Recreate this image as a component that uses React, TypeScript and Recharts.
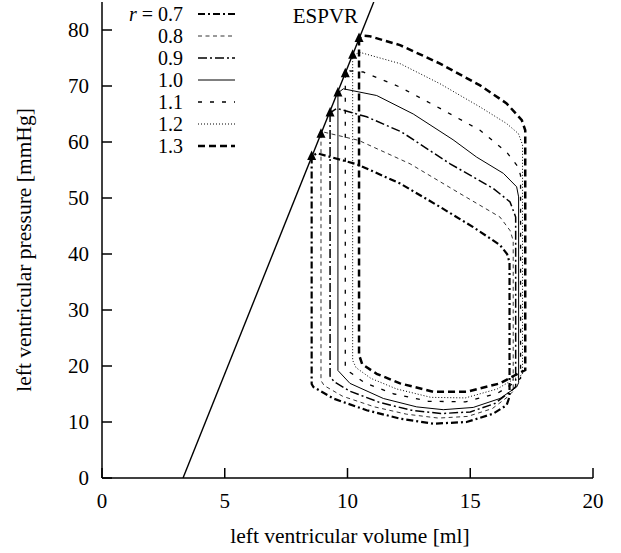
import React from 'react';
import { ComposedChart, Line, Scatter, XAxis, YAxis, Legend, ReferenceDot, Label } from 'recharts';

const FONT = '"Liberation Serif", "Times New Roman", Times, serif';

// ratio r for each loop
const ratioLabels = ['0.7', '0.8', '0.9', '1.0', '1.1', '1.2', '1.3'];

// pressure-volume loops: [volume ml, pressure mmHg]
const loop07: [number, number][] = [[8.54, 57.4], [8.54, 16.8], [8.61, 16.25], [9.42, 14.2], [10.78, 12.1], [12.14, 10.6], [13.5, 9.7], [14.85, 10.0], [15.94, 11.5], [16.48, 13.0], [16.6, 14.5], [16.6, 38.5], [16.5, 40.0], [16.21, 41.6], [15.12, 44.8], [13.77, 48.4], [12.14, 52.6], [10.4, 56.0], [8.75, 58.0], [8.54, 57.4]];
const loop08: [number, number][] = [[8.92, 61.4], [8.92, 17.4], [9.05, 16.5], [9.8, 14.6], [11.1, 12.7], [12.4, 11.4], [13.7, 10.7], [14.9, 11.0], [15.9, 12.4], [16.5, 14.4], [16.75, 15.5], [16.75, 42.4], [16.62, 44.2], [16.21, 46.6], [14.58, 50.8], [12.55, 56.1], [10.45, 60.3], [9.0, 61.8], [8.92, 61.4]];
const loop09: [number, number][] = [[9.29, 65.2], [9.29, 18.2], [9.45, 17.2], [10.1, 15.5], [11.3, 13.5], [12.6, 12.1], [13.8, 11.5], [15.0, 11.8], [16.0, 13.3], [16.6, 15.3], [16.85, 16.3], [16.85, 46.6], [16.62, 49.3], [15.94, 51.7], [14.18, 56.1], [12.2, 61.8], [10.78, 64.5], [9.56, 66.0], [9.29, 65.2]];
const loop10: [number, number][] = [[9.61, 68.75], [9.61, 19.2], [10.1, 16.9], [11.46, 14.2], [12.82, 12.7], [13.9, 12.2], [15.12, 12.6], [16.21, 14.2], [16.89, 16.25], [16.97, 17.0], [16.97, 50.2], [16.89, 52.0], [16.35, 54.4], [15.26, 57.3], [14.3, 60.4], [12.68, 65.0], [11.19, 68.3], [9.83, 69.5], [9.61, 68.75]];
const loop11: [number, number][] = [[9.91, 72.2], [9.91, 20.0], [10.1, 18.9], [10.7, 17.0], [11.9, 15.0], [13.3, 13.7], [14.8, 13.6], [16.1, 15.1], [16.75, 16.9], [17.05, 17.8], [17.05, 54.0], [16.96, 55.5], [16.48, 58.2], [15.4, 62.1], [13.77, 66.0], [12.14, 69.8], [10.64, 72.5], [10.1, 72.7], [9.91, 72.2]];
const loop12: [number, number][] = [[10.21, 75.5], [10.21, 21.0], [10.35, 19.7], [10.95, 17.8], [12.0, 15.9], [13.4, 14.4], [14.8, 14.3], [16.1, 15.9], [16.75, 17.6], [17.13, 18.5], [17.13, 59.5], [16.96, 61.5], [16.48, 63.3], [15.4, 66.25], [13.77, 70.4], [12.14, 74.0], [10.51, 76.0], [10.21, 75.5]];
const loop13: [number, number][] = [[10.47, 78.5], [10.47, 22.0], [10.6, 20.3], [11.19, 18.6], [12.14, 16.9], [13.5, 15.4], [14.85, 15.4], [16.21, 16.9], [16.8, 18.3], [17.24, 19.3], [17.24, 62.1], [17.1, 63.9], [16.48, 66.9], [15.4, 70.1], [13.77, 74.0], [12.14, 77.3], [10.9, 78.9], [10.6, 79.0], [10.47, 78.5]];

const loops = [loop07, loop08, loop09, loop10, loop11, loop12, loop13];

// end-systolic points (triangles)
const esVolume = [8.54, 8.92, 9.29, 9.61, 9.91, 10.21, 10.47];
const esPressure = [57.4, 61.4, 65.2, 68.75, 72.2, 75.5, 78.5];

// ESPVR line
const espvrVolume = [3.3, 11.07];
const espvrPressure = [0, 85];
const espvrLabelPos = { x: 9.1, y: 82.6 };

const xTicks = [0, 5, 10, 15, 20];
const yTicks = [0, 10, 20, 30, 40, 50, 60, 70, 80];

const lineStyles = [
  { dash: '7 3 2 3', width: 2.2 },
  { dash: '4 3.5', width: 0.8 },
  { dash: '9 3 2 3', width: 1.5 },
  { dash: undefined as string | undefined, width: 1 },
  { dash: '4 8', width: 1.3 },
  { dash: '1 2', width: 1 },
  { dash: '7 4', width: 2.5 },
];

const toPts = (arr: [number, number][]) => arr.map(([x, y]) => ({ x, y }));
const esPts = esVolume.map((x, i) => ({ x, y: esPressure[i] }));
const espvrPts = espvrVolume.map((x, i) => ({ x, y: espvrPressure[i] }));

const Tri = (props: any) => {
  const { cx, cy } = props;
  if (cx == null || cy == null) return null;
  return <polygon points={`${cx},${cy - 6} ${cx - 4.5},${cy + 3.5} ${cx + 4.5},${cy + 3.5}`} fill="#000" />;
};

const LegendBox = () => (
  <svg width={260} height={160} style={{ display: 'block' }}>
    {ratioLabels.map((r, i) => {
      const cy = 14 + i * 22;
      const s = lineStyles[i];
      return (
        <g key={r}>
          <text x={183} y={cy + 7} textAnchor="end" fontFamily={FONT} fontSize={20} fill="#000">
            {i === 0 ? (
              <>
                <tspan fontStyle="italic">r</tspan>
                <tspan> = {r}</tspan>
              </>
            ) : (
              r
            )}
          </text>
          <line x1={198} x2={235} y1={cy} y2={cy} stroke="#000" strokeWidth={s.width} strokeDasharray={s.dash} />
        </g>
      );
    })}
  </svg>
);

const tickStyle = { fill: '#000', fontSize: 21, fontFamily: FONT };

export default function App() {
  return (
    <div style={{ position: 'absolute', left: 0, top: 0, width: 621, height: 553, background: '#fff' }}>
      <ComposedChart width={621} height={553} margin={{ top: 2, right: 28, bottom: 30, left: 0 }}>
        <XAxis
          type="number"
          dataKey="x"
          domain={[0, 20]}
          ticks={xTicks}
          allowDataOverflow
          interval={0}
          height={45}
          axisLine={{ stroke: '#000', strokeWidth: 1.5 }}
          tickLine={{ stroke: '#000', strokeWidth: 1.5 }}
          tickSize={-10}
          tickMargin={25}
          tick={tickStyle}
        >
          <Label
            content={() => (
              <text x={350} y={543} textAnchor="middle" fontFamily={FONT} fontSize={21.5} fill="#000">
                left ventricular volume [ml]
              </text>
            )}
          />
        </XAxis>
        <YAxis
          type="number"
          dataKey="y"
          domain={[0, 85]}
          ticks={yTicks}
          allowDataOverflow
          interval={0}
          width={102}
          axisLine={{ stroke: '#000', strokeWidth: 1.5 }}
          tickLine={{ stroke: '#000', strokeWidth: 1.5 }}
          tickSize={-10}
          tickMargin={23}
          tick={tickStyle}
        >
          <Label
            content={() => (
              <text x={31} y={250} transform="rotate(-90 31 250)" textAnchor="middle" fontFamily={FONT} fontSize={21.5} fill="#000">
                left ventricular pressure [mmHg]
              </text>
            )}
          />
        </YAxis>
        <Legend
          layout="vertical"
          align="center"
          verticalAlign="middle"
          content={() => <LegendBox />}
          wrapperStyle={{ left: 0, top: 0, width: 260, height: 160 }}
        />
        <Line
          data={espvrPts}
          dataKey="y"
          type="linear"
          stroke="#000"
          strokeWidth={1.4}
          dot={false}
          activeDot={false}
          isAnimationActive={false}
          legendType="none"
        />
        {loops.map((lp, i) => (
          <Line
            key={ratioLabels[i]}
            data={toPts(lp)}
            dataKey="y"
            type="linear"
            stroke="#000"
            strokeWidth={lineStyles[i].width}
            strokeDasharray={lineStyles[i].dash}
            dot={false}
            activeDot={false}
            isAnimationActive={false}
            legendType="none"
          />
        ))}
        <Scatter data={esPts} dataKey="y" shape={<Tri />} isAnimationActive={false} legendType="none" />
        <ReferenceDot
          x={espvrLabelPos.x}
          y={espvrLabelPos.y}
          r={0}
          fill="none"
          stroke="none"
          label={{ value: 'ESPVR', position: 'center', fill: '#000', fontSize: 21, fontFamily: FONT }}
        />
      </ComposedChart>
    </div>
  );
}
